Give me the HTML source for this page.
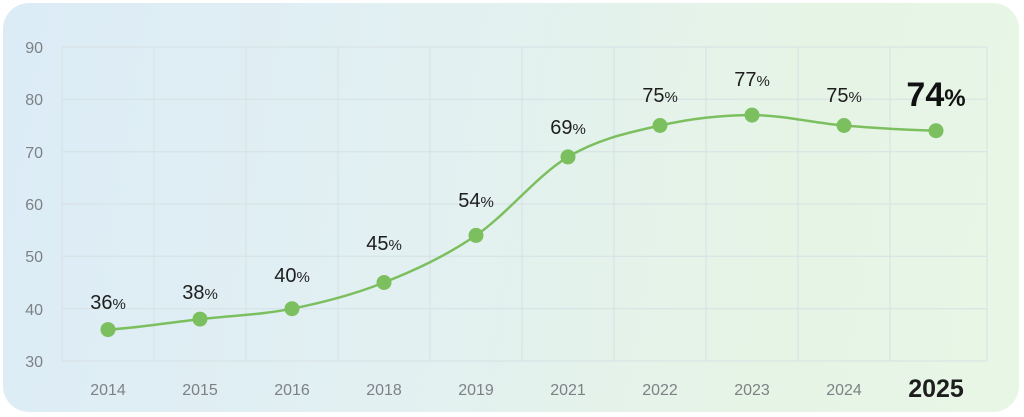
<!DOCTYPE html>
<html><head><meta charset="utf-8"><style>
html,body{margin:0;padding:0;background:#fff;width:1024px;height:417px;overflow:hidden}
.card{position:absolute;left:3px;top:3px;width:1016px;height:409px;border-radius:26px;
background:linear-gradient(100deg,#dcecf6 0%,#e2f0f2 40%,#e6f4e6 75%,#e8f6e6 100%);}
svg{position:absolute;left:0;top:0}
</style></head><body>
<div class="card"></div>
<svg width="1024" height="417" font-family="Liberation Sans, sans-serif">
<g stroke="#d6e0e3" stroke-width="1" fill="none">
<line x1="62" y1="47" x2="987" y2="47"/><line x1="62" y1="99.3" x2="987" y2="99.3"/>
<line x1="62" y1="151.7" x2="987" y2="151.7"/><line x1="62" y1="204" x2="987" y2="204"/>
<line x1="62" y1="256.3" x2="987" y2="256.3"/><line x1="62" y1="308.7" x2="987" y2="308.7"/>
<line x1="62" y1="361" x2="987" y2="361"/>
<line x1="62" y1="47" x2="62" y2="361"/><line x1="154" y1="47" x2="154" y2="361"/>
<line x1="246" y1="47" x2="246" y2="361"/><line x1="338" y1="47" x2="338" y2="361"/>
<line x1="430" y1="47" x2="430" y2="361"/><line x1="522" y1="47" x2="522" y2="361"/>
<line x1="614" y1="47" x2="614" y2="361"/><line x1="706" y1="47" x2="706" y2="361"/>
<line x1="798" y1="47" x2="798" y2="361"/><line x1="890" y1="47" x2="890" y2="361"/>
<line x1="987" y1="47" x2="987" y2="361"/>
</g>
<g fill="#7d8186" font-size="16" text-anchor="end">
<text x="43" y="53">90</text><text x="43" y="105">80</text><text x="43" y="158">70</text>
<text x="43" y="210">60</text><text x="43" y="262">50</text><text x="43" y="315">40</text><text x="43" y="367">30</text>
</g>
<g fill="#7d8186" font-size="16" text-anchor="middle">
<text x="108" y="395">2014</text><text x="200" y="395">2015</text><text x="292" y="395">2016</text>
<text x="384" y="395">2018</text><text x="476" y="395">2019</text><text x="568" y="395">2021</text>
<text x="660" y="395">2022</text><text x="752" y="395">2023</text><text x="844" y="395">2024</text>
</g>
<text x="936" y="397" text-anchor="middle" font-size="25" font-weight="bold" fill="#1e1e1e">2025</text>
<path fill="none" stroke="#7cbf5f" stroke-width="2.5" stroke-linejoin="round"
d="M108,329.6 C138.67,327.85 169.33,322.58 200,319.1 C230.67,315.62 261.33,314.8 292,308.7 C322.67,302.6 353.33,294.72 384,282.5 C414.67,270.28 445.33,256.33 476,235.4 C506.67,214.47 537.33,175.22 568,156.9 C598.67,138.58 629.33,132.47 660,125.5 C690.67,118.53 721.33,115.1 752,115.1 C782.67,115.1 813.33,122.9 844,125.5 C874.67,128.1 905.33,129.83 936,130.7"/>
<g fill="#7cbf5f">
<circle cx="108" cy="329.6" r="7.5"/><circle cx="200" cy="319.1" r="7.5"/><circle cx="292" cy="308.7" r="7.5"/>
<circle cx="384" cy="282.5" r="7.5"/><circle cx="476" cy="235.4" r="7.5"/><circle cx="568" cy="156.9" r="7.5"/>
<circle cx="660" cy="125.5" r="7.5"/><circle cx="752" cy="115.1" r="7.5"/><circle cx="844" cy="125.5" r="7.5"/>
<circle cx="936" cy="130.7" r="7.5"/>
</g>
<g fill="#1e1e1e" font-size="20" text-anchor="middle">
<text x="108" y="309">36<tspan font-size="15">%</tspan></text>
<text x="200" y="299">38<tspan font-size="15">%</tspan></text>
<text x="292" y="282">40<tspan font-size="15">%</tspan></text>
<text x="384" y="250">45<tspan font-size="15">%</tspan></text>
<text x="476" y="207">54<tspan font-size="15">%</tspan></text>
<text x="568" y="134">69<tspan font-size="15">%</tspan></text>
<text x="660" y="102">75<tspan font-size="15">%</tspan></text>
<text x="752" y="86">77<tspan font-size="15">%</tspan></text>
<text x="844" y="102">75<tspan font-size="15">%</tspan></text>
</g>
<text x="936" y="106" text-anchor="middle" font-size="34" font-weight="bold" fill="#111">74<tspan font-size="24">%</tspan></text>
</svg>
</body></html>
